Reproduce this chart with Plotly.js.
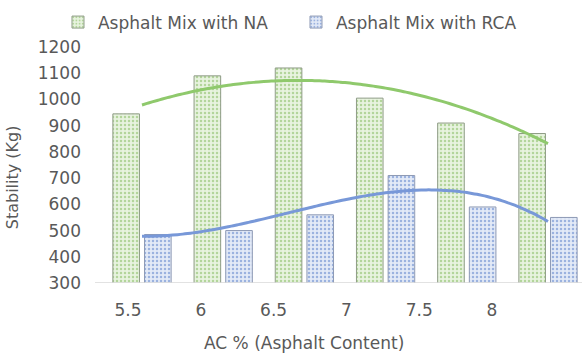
<!DOCTYPE html>
<html>
<head>
<meta charset="utf-8">
<script src="https://cdn.plot.ly/plotly-3.0.1.min.js"></script>
<style>
  html, body { margin: 0; padding: 0; background: #fff; }
  #chart { width: 582px; height: 354px; }
</style>
</head>
<body>
<div id="chart"></div>
<script>
// Asphalt content (%) and Marshall stability (kg)
const acContent = [5.5, 6, 6.5, 7, 7.5, 8];
const tickLabels = ['5.5', '6', '6.5', '7', '7.5', '8'];
const stabilityNA = [945, 1090, 1120, 1005, 910, 870];
const stabilityRCA = [485, 500, 560, 710, 590, 550];
const seriesNames = ['Asphalt Mix with NA', 'Asphalt Mix with RCA'];

// Least-squares polynomial trendline of the given order
function polyFit(xs, ys, order) {
  const n = order + 1;
  const A = Array.from({length: n}, () => new Array(n + 1).fill(0));
  xs.forEach((x, k) => {
    for (let i = 0; i < n; i++) {
      for (let j = 0; j < n; j++) A[i][j] += Math.pow(x, i + j);
      A[i][n] += ys[k] * Math.pow(x, i);
    }
  });
  for (let c = 0; c < n; c++) {
    let p = c;
    for (let r = c + 1; r < n; r++) if (Math.abs(A[r][c]) > Math.abs(A[p][c])) p = r;
    [A[c], A[p]] = [A[p], A[c]];
    for (let r = 0; r < n; r++) {
      if (r === c) continue;
      const f = A[r][c] / A[c][c];
      for (let k = c; k <= n; k++) A[r][k] -= f * A[c][k];
    }
  }
  return A.map((row, i) => row[n] / A[i][i]);
}
function trendline(xs, ys, order) {
  const coef = polyFit(xs, ys, order);
  const lo = xs[0], hi = xs[xs.length - 1], steps = 80;
  const tx = [], ty = [];
  for (let s = 0; s <= steps; s++) {
    const x = lo + (hi - lo) * s / steps;
    tx.push(x);
    ty.push(coef.reduce((acc, c, i) => acc + c * Math.pow(x, i), 0));
  }
  return {x: tx, y: ty};
}

const trendNA = trendline(acContent, stabilityNA, 2);
const trendRCA = trendline(acContent, stabilityRCA, 3);

const font = {family: 'DejaVu Sans, Lato, sans-serif', color: '#595959'};

const data = [
  {
    type: 'bar', name: seriesNames[0], x: acContent, y: stabilityNA,
    marker: {
      color: '#d7e9c9',
      line: {color: '#8f9c86', width: 1},
      pattern: {shape: '.', fgcolor: '#b3d59b', bgcolor: '#e8f3df', size: 4, solidity: 0.3}
    },
    hoverinfo: 'x+y'
  },
  {
    type: 'bar', name: seriesNames[1], x: acContent, y: stabilityRCA,
    marker: {
      color: '#ccd9f0',
      line: {color: '#8e9ab5', width: 1},
      pattern: {shape: '.', fgcolor: '#9bb2df', bgcolor: '#e3eaf7', size: 4, solidity: 0.3}
    },
    hoverinfo: 'x+y'
  },
  {
    type: 'scatter', mode: 'lines', x: trendNA.x, y: trendNA.y,
    line: {color: '#8fc96c', width: 3, shape: 'spline'},
    showlegend: false, hoverinfo: 'skip'
  },
  {
    type: 'scatter', mode: 'lines', x: trendRCA.x, y: trendRCA.y,
    line: {color: '#7898d8', width: 3, shape: 'spline'},
    showlegend: false, hoverinfo: 'skip'
  },
  // carries the category labels on the lower label axis
  {
    type: 'scatter', mode: 'markers', x: acContent, y: acContent.map(() => null),
    xaxis: 'x2', showlegend: false, hoverinfo: 'skip', marker: {opacity: 0}
  }
];

const layout = {
  width: 582, height: 354,
  margin: {l: 95, r: 0, t: 47, b: 71},
  paper_bgcolor: '#ffffff', plot_bgcolor: '#ffffff',
  font: font,
  barmode: 'group', bargap: 0.22, bargroupgap: 0.16,
  showlegend: true,
  legend: {
    orientation: 'h', x: -0.076, xanchor: 'left', y: 1.18, yanchor: 'top',
    font: {family: font.family, size: 17, color: '#595959'},
    itemwidth: 30, entrywidth: 193, entrywidthmode: 'pixels',
    tracegroupgap: 0, bgcolor: 'rgba(0,0,0,0)'
  },
  xaxis: {
    type: 'linear', range: [5.2106, 8.2094], fixedrange: true,
    showticklabels: false, ticks: '', showgrid: false, zeroline: false,
    showline: false
  },
  xaxis2: {
    type: 'linear', overlaying: 'x', anchor: 'y', side: 'bottom',
    range: [5.2734, 8.618], fixedrange: true,
    tickmode: 'array', tickvals: acContent, ticktext: tickLabels,
    tickfont: {family: font.family, size: 17, color: '#595959'},
    ticks: '', ticklabelstandoff: 15, showgrid: false, zeroline: false, showline: false
  },
  yaxis: {
    range: [300, 1200], dtick: 100, tick0: 300, fixedrange: true,
    showgrid: false, zeroline: false, ticks: '',
    showline: false,
    tickfont: {family: font.family, size: 17, color: '#595959'},
    ticklabelstandoff: 13
  },
  shapes: [
    {type: 'line', xref: 'paper', yref: 'y', x0: 0, x1: 1, y0: 300, y1: 300,
     line: {color: '#d9d9d9', width: 1.5}}
  ],
  annotations: [
    {text: 'AC % (Asphalt Content)', xref: 'paper', yref: 'paper',
     x: 0.429, y: -0.255, xanchor: 'center', yanchor: 'middle', showarrow: false,
     font: {family: font.family, size: 17, color: '#595959'}},
    {text: 'Stability (Kg)', xref: 'paper', yref: 'paper', textangle: -90,
     x: -0.170, y: 0.449, xanchor: 'center', yanchor: 'middle', showarrow: false,
     font: {family: font.family, size: 16, color: '#595959'}}
  ]
};

Plotly.newPlot('chart', data, layout, {displayModeBar: false, staticPlot: true});
</script>
</body>
</html>
